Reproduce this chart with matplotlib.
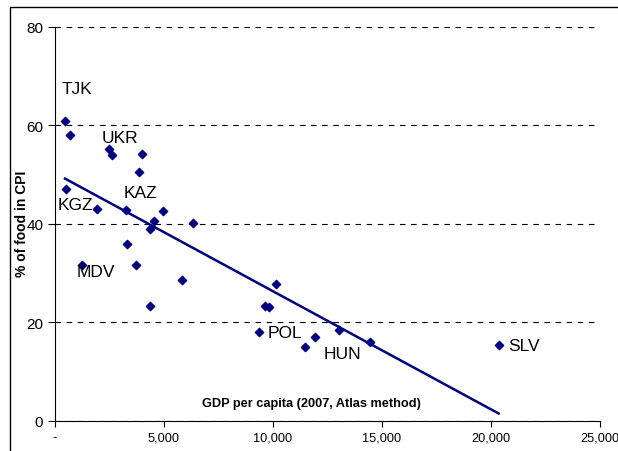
import numpy as np
import matplotlib
matplotlib.use("Agg")
import matplotlib.pyplot as plt
from matplotlib.patches import Rectangle

plt.rcParams['font.family'] = ['Liberation Sans', 'DejaVu Sans']

# GDP per capita (2007, Atlas method) and share of food in CPI
gdp = [459, 688, 505, 1927, 2477, 2615, 3991, 3853, 3257, 4954, 4541, 4358,
       6317, 1253, 3288, 3716, 5840, 4342, 10122, 9633, 9801, 9342, 11927,
       11452, 13043, 14465, 20351]
food = [61.0, 58.1, 47.1, 43.0, 55.2, 54.0, 54.2, 50.6, 42.8, 42.6, 40.6,
        38.9, 40.2, 31.7, 35.9, 31.7, 28.6, 23.3, 27.8, 23.4, 23.2, 18.1,
        17.1, 15.0, 18.4, 15.9, 15.3]

# country labels and where they sit
labels = ["TJK", "KGZ", "UKR", "KAZ", "MDV", "POL", "HUN", "SLV"]
label_x = [300, 100, 2150, 3150, 1000, 9750, 12300, 20800]
label_y = [67.5, 44.0, 57.5, 46.3, 30.4, 18.0, 13.7, 15.2]

navy = "#000080"

fig = plt.figure(figsize=(6.18, 4.52), dpi=100)
ax = fig.add_axes([55 / 618, 1 - 421.7 / 452, 545 / 618, 393.7 / 452])

ax.scatter(gdp, food, marker="D", s=18, color=navy, zorder=3)

# linear trend
k, b = np.polyfit(gdp, food, 1)
xs = np.array([min(gdp), max(gdp)])
ax.plot(xs, k * xs + b, color=navy, lw=1.8, zorder=2)

for t, x, y in zip(labels, label_x, label_y):
    ax.text(x, y, t, fontsize=12.5, va="center", ha="left")

ax.set_xlim(0, 25000)
ax.set_ylim(0, 80)
ax.set_xticks(range(0, 25001, 5000))
ax.set_xticklabels(["-", "5,000", "10,000", "15,000", "20,000", "25,000"], fontsize=9.2)
ax.set_yticks(range(0, 81, 20))
ax.tick_params(axis="y", labelsize=11, length=5, direction="out")
ax.tick_params(axis="x", length=4, direction="out")
ax.yaxis.grid(True, ls=(0, (5, 5)), color="black", lw=0.8)
ax.set_axisbelow(True)
for s in ["top", "right"]:
    ax.spines[s].set_visible(False)

ax.text(0.47, 0.045, "GDP per capita (2007, Atlas method)", transform=ax.transAxes,
        fontsize=9.2, fontweight="bold", ha="center", va="center")
fig.text(22 / 618, 1 - 224 / 452, "% of food in CPI", rotation=90, fontsize=10,
         fontweight="bold", ha="center", va="center")

# outer frame
fig.patches.append(Rectangle((10 / 618, -0.05), 1.1, 1 - 8 / 452 + 0.05,
                             transform=fig.transFigure, fill=False,
                             edgecolor="black", lw=1))

fig.savefig("out.png", dpi=100)
